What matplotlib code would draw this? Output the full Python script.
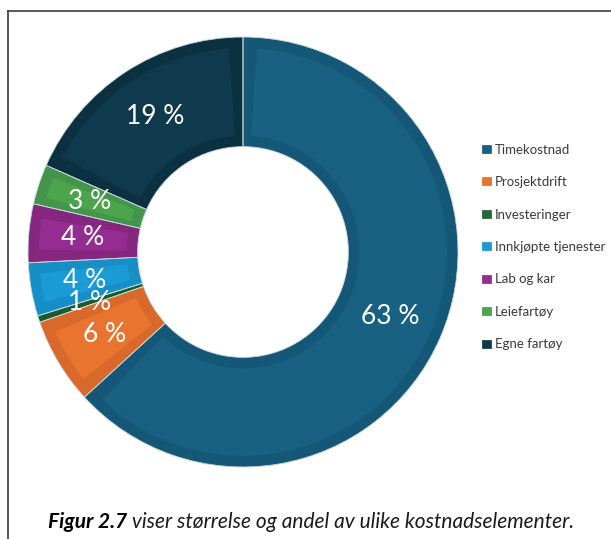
import matplotlib.pyplot as plt
from matplotlib.patches import Patch, Wedge
from matplotlib.lines import Line2D
import numpy as np

plt.rcParams['font.family'] = ['Lato', 'DejaVu Sans']

# data
kategorier = ['Timekostnad', 'Prosjektdrift', 'Investeringer', 'Innkjøpte tjenester',
              'Lab og kar', 'Leiefartøy', 'Egne fartøy']
andel = [63.2, 6.5, 0.5, 4.0, 4.4, 3.0, 18.4]
etiketter = ['63 %', '6 %', '1 %', '4 %', '4 %', '3 %', '19 %']
farger = ['#186183', '#e9742f', '#1f6b36', '#1b9bd6', '#952c91', '#4ca54c', '#0f3a4d']
kant = ['#145776', '#d9692a', '#1a5c2e', '#168fc6', '#85267f', '#42954a', '#0b3040']

W, H = 611, 539
fig = plt.figure(figsize=(W / 100, H / 100), dpi=100)

# donut centre / radius in pixels
R = 215
cx, cy = 243, H - 252
ax = fig.add_axes([(cx - R) / W, (cy - R) / H, 2 * R / W, 2 * R / H])

bredde = 0.51
wedges, _ = ax.pie(andel, colors=kant, startangle=90, counterclock=False,
                   radius=1, wedgeprops=dict(width=bredde, linewidth=0))

# lighter inner panel in each slice (bevel look)
d = 11 / R
rmid = 1 - bredde / 2
for w, c in zip(wedges, farger):
    span = w.theta2 - w.theta1
    a = min(np.rad2deg(d / rmid), span * 0.22)
    if span < 3:
        continue
    ax.add_patch(Wedge((0, 0), 1 - d, w.theta1 + a, w.theta2 - a,
                       width=bredde - 2 * d, facecolor=c, linewidth=0))

# thin light separators
ax.pie(andel, colors=['none'] * len(andel), startangle=90, counterclock=False,
       radius=1, wedgeprops=dict(width=bredde, linewidth=0.6, edgecolor='#c9d6dc'))

for w, lab in zip(wedges, etiketter):
    th = np.deg2rad((w.theta1 + w.theta2) / 2)
    ax.text(0.75 * np.cos(th), 0.75 * np.sin(th), lab, ha='center', va='center',
            color='white', fontsize=19)

ax.set_xlim(-1, 1)
ax.set_ylim(-1, 1)
ax.axis('off')

handles = [Patch(facecolor=c, edgecolor=k, linewidth=0.5) for c, k in zip(farger, kant)]
fig.legend(handles, kategorier, loc='center left', bbox_to_anchor=(470 / W, 1 - 247 / H),
           frameon=False, fontsize=9.5, handlelength=0.7, handleheight=0.55,
           handletextpad=0.3, labelspacing=1.55, labelcolor='#3a3a3a')

# caption
t1 = fig.text(48 / W, 1 - 532 / H, 'Figur 2.7', fontsize=15, fontweight='bold',
              fontstyle='italic', va='bottom', color='black')
ax.annotate(' viser størrelse og andel av ulike kostnadselementer.', xy=(1, 0),
            xycoords=t1, va='bottom', ha='left', fontsize=15, fontstyle='italic',
            color='#1a1a1a', annotation_clip=False)

# frame lines
fig.add_artist(Line2D([8 / W, 8 / W], [0, 1 - 11 / H], color='#3c3c3c', lw=1.2,
                      transform=fig.transFigure))
fig.add_artist(Line2D([8 / W, 1], [1 - 11 / H, 1 - 11 / H], color='#3c3c3c', lw=1.2,
                      transform=fig.transFigure))

fig.savefig('out.png', dpi=100)
